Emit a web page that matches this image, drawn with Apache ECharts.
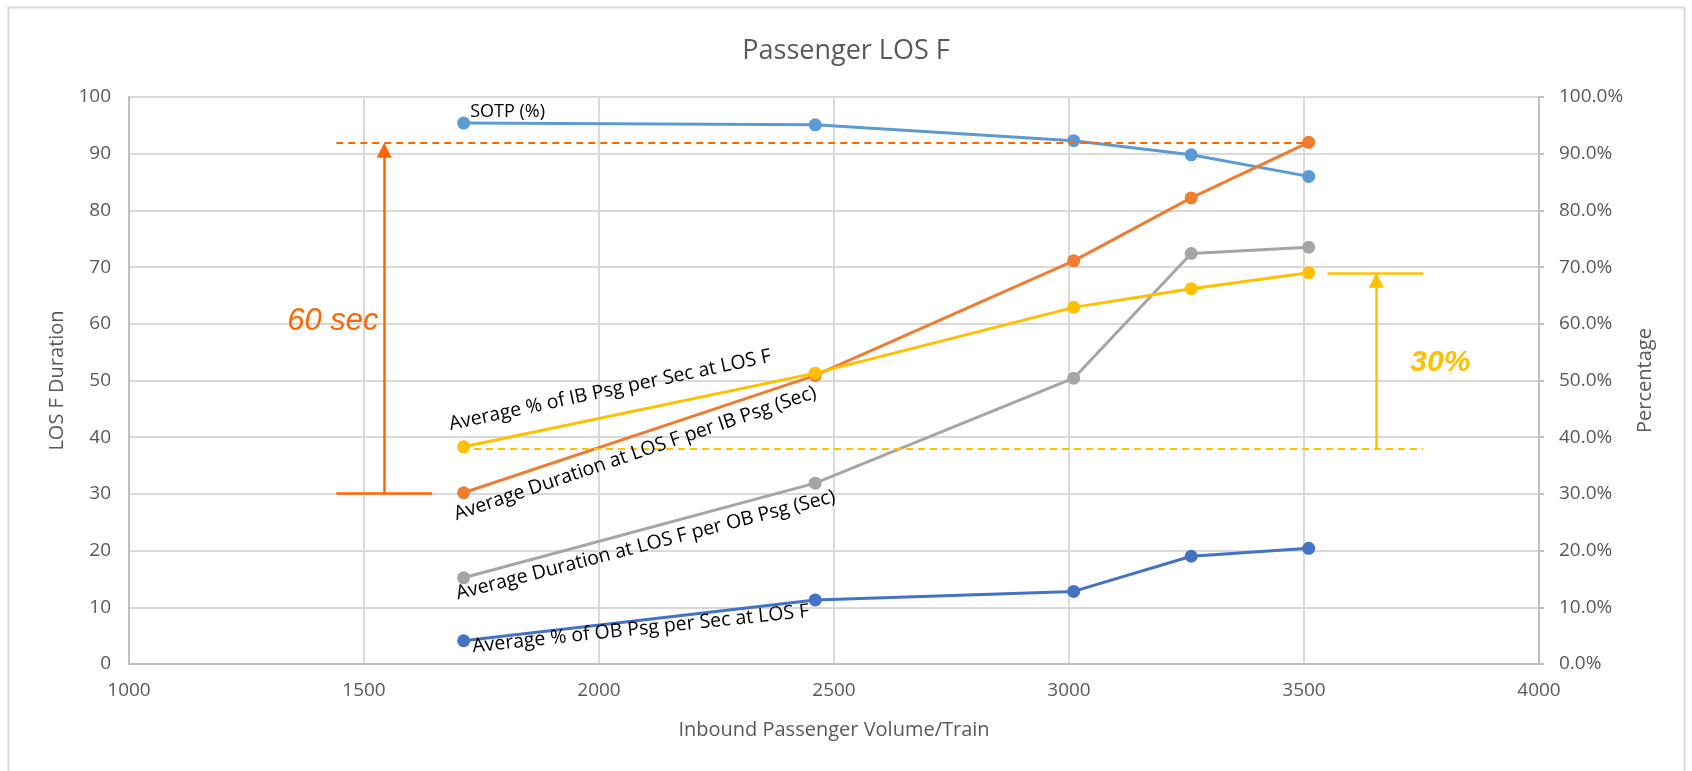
<!DOCTYPE html>
<html style="height: 100%">
<head>
    <meta charset="utf-8">
    <title>Passenger LOS F</title>
    <script src="https://cdn.jsdelivr.net/npm/echarts@6/dist/echarts.min.js"></script>
</head>
<body style="height: 100%; margin: 0; background: #fff">
    <div id="main" style="width: 1692px; height: 771px"></div>
    <script type="text/javascript">
        // data
        var volume = [1712, 2460, 3010, 3260, 3510];
        var sotp = [95.4, 95.1, 92.3, 89.8, 86.0];          // %
        var durIB = [30.2, 50.9, 71.1, 82.2, 92.0];         // sec
        var durOB = [15.2, 31.9, 50.4, 72.4, 73.5];         // sec
        var pctIB = [38.3, 51.3, 62.9, 66.2, 69.0];         // %
        var pctOB = [4.1, 11.3, 12.8, 19.0, 20.4];          // %

        var seriesNames = [
            'SOTP (%)',
            'Average Duration at LOS F per IB Psg (Sec)',
            'Average Duration at LOS F per OB Psg (Sec)',
            'Average % of IB Psg per Sec at LOS F',
            'Average % of OB Psg per Sec at LOS F'
        ];
        var colors = ['#5B9BD5', '#ED7D31', '#A5A5A5', '#FFC000', '#4472C4'];

        var FONT = "'Open Sans', sans-serif";
        var GREY = '#595959';
        var ORANGE = '#FF6600';
        var YELLOW = '#FFC000';

        function pairs(ys) {
            return volume.map(function (x, i) { return [x, ys[i]]; });
        }

        function lineSeries(idx, ys, axis, extra) {
            var s = {
                name: seriesNames[idx],
                type: 'line',
                yAxisIndex: axis,
                data: pairs(ys),
                symbol: 'circle',
                symbolSize: 13,
                itemStyle: { color: colors[idx] },
                lineStyle: { color: colors[idx], width: 3 },
                emphasis: { disabled: true },
                z: 3
            };
            for (var k in extra) s[k] = extra[k];
            return s;
        }

        var markBase = {
            silent: true,
            animation: false,
            symbol: ['none', 'none'],
            label: { show: false },
            emphasis: { disabled: true }
        };

        // arrow / bracket annotations (data coordinates)
        var orangeMarks = Object.assign({}, markBase, {
            lineStyle: { color: ORANGE, width: 2.5, type: 'solid' },
            data: [
                [{ coord: [1441, 91.9], lineStyle: { type: [7, 5], width: 2 } }, { coord: [3510, 91.9] }],
                [{ coord: [1441, 30.2] }, { coord: [1645, 30.2] }],
                [{ coord: [1543, 30.2], symbol: 'none' },
                 { coord: [1543, 90.6], symbol: 'triangle', symbolSize: [15, 15] }]
            ]
        });
        var yellowMarks = Object.assign({}, markBase, {
            lineStyle: { color: YELLOW, width: 2.5, type: 'solid' },
            data: [
                [{ coord: [1734, 37.9], lineStyle: { type: [7, 5], width: 2 } }, { coord: [3754, 37.9] }],
                [{ coord: [3550, 69.0] }, { coord: [3754, 69.0] }],
                [{ coord: [3654, 37.9], symbol: 'none' },
                 { coord: [3654, 67.7], symbol: 'triangle', symbolSize: [15, 15] }]
            ]
        });

        var myChart = echarts.init(document.getElementById('main'));

        var option = {
            animation: false,
            backgroundColor: '#fff',
            textStyle: { fontFamily: FONT },
            title: {
                text: 'Passenger LOS F',
                left: 'center',
                top: 33,
                textStyle: { fontFamily: FONT, fontSize: 27, fontWeight: 'normal', color: GREY }
            },
            grid: { left: 129, right: 153, top: 97, bottom: 107 },
            xAxis: {
                type: 'value',
                min: 1000,
                max: 4000,
                interval: 500,
                name: 'Inbound Passenger Volume/Train',
                nameLocation: 'middle',
                nameGap: 56,
                nameTextStyle: { fontFamily: FONT, fontSize: 20, color: GREY },
                axisLine: { lineStyle: { color: '#BFBFBF', width: 2 } },
                axisTick: { show: false },
                axisLabel: {
                    color: GREY, fontSize: 19, margin: 17, fontFamily: FONT,
                    formatter: function (v) { return String(v); }
                },
                splitLine: { lineStyle: { color: '#D9D9D9', width: 2 } }
            },
            yAxis: [
                {
                    type: 'value',
                    min: 0,
                    max: 100,
                    interval: 10,
                    name: 'LOS F Duration',
                    nameLocation: 'middle',
                    nameGap: 62,
                    nameTextStyle: { fontFamily: FONT, fontSize: 20, color: GREY },
                    axisLine: { show: true, lineStyle: { color: '#BFBFBF', width: 2 } },
                    axisTick: { show: false },
                    axisLabel: { color: GREY, fontSize: 19, margin: 18, fontFamily: FONT },
                    splitLine: { lineStyle: { color: '#D9D9D9', width: 2 } }
                },
                {
                    type: 'value',
                    min: 0,
                    max: 100,
                    interval: 10,
                    position: 'right',
                    name: 'Percentage',
                    nameLocation: 'middle',
                    nameGap: 96,
                    nameRotate: 90,
                    nameTextStyle: { fontFamily: FONT, fontSize: 20, color: GREY },
                    axisLine: { show: true, lineStyle: { color: '#BFBFBF', width: 2 } },
                    axisTick: { show: true, length: 5, lineStyle: { color: '#BFBFBF', width: 2 } },
                    axisLabel: {
                        color: GREY, fontSize: 19, margin: 20, fontFamily: FONT,
                        formatter: function (v) { return v.toFixed(1) + '%'; }
                    },
                    splitLine: { show: false }
                }
            ],
            series: [
                lineSeries(0, sotp, 1),
                lineSeries(1, durIB, 0, { markLine: orangeMarks }),
                lineSeries(2, durOB, 0),
                lineSeries(3, pctIB, 1, { markLine: yellowMarks }),
                lineSeries(4, pctOB, 1)
            ]
        };

        myChart.setOption(option);

        // text annotations placed through the axes
        var notes = [
            { text: seriesNames[0], at: [1726, 95.8], rot: 0, size: 18 },
            { text: seriesNames[3], at: [1686, 40.5], rot: 12, size: 19.5 },
            { text: seriesNames[1], at: [1700, 24.6], rot: 18.8, size: 19.5 },
            { text: seriesNames[2], at: [1702, 10.6], rot: 14.5, size: 19.5 },
            { text: seriesNames[4], at: [1733, 1.3], rot: 6, size: 19.5 }
        ];

        function px(p) {
            return myChart.convertToPixel({ xAxisIndex: 0, yAxisIndex: 0 }, p);
        }

        var graphics = [
            {
                type: 'rect',
                shape: { x: 8.5, y: 7.5, width: 1676, height: 775 },
                style: { fill: 'none', stroke: '#D9D9D9', lineWidth: 2 },
                silent: true, z: -1
            }
        ];

        notes.forEach(function (n) {
            var p = px(n.at);
            graphics.push({
                type: 'text',
                x: p[0], y: p[1],
                rotation: n.rot * Math.PI / 180,
                silent: true, z: 10,
                style: {
                    text: n.text,
                    fill: '#000',
                    fontSize: n.size,
                    fontFamily: FONT,
                    align: 'left', textAlign: 'left',
                    verticalAlign: 'bottom', textVerticalAlign: 'bottom'
                }
            });
        });

        var p60 = px([1531, 60.4]);
        graphics.push({
            type: 'text', x: p60[0], y: p60[1], silent: true, z: 10,
            style: {
                text: '60 sec', fill: ORANGE, fontSize: 31, fontStyle: 'italic',
                fontFamily: "'Liberation Sans', Arial, sans-serif",
                align: 'right', textAlign: 'right', verticalAlign: 'middle', textVerticalAlign: 'middle'
            }
        });
        var p30 = px([3790, 53.1]);
        graphics.push({
            type: 'text', x: p30[0], y: p30[1], silent: true, z: 10,
            style: {
                text: '30%', fill: YELLOW, fontSize: 30, fontStyle: 'italic', fontWeight: 'bold',
                fontFamily: "'Liberation Sans', Arial, sans-serif",
                align: 'center', textAlign: 'center', verticalAlign: 'middle', textVerticalAlign: 'middle'
            }
        });

        myChart.setOption({ graphic: graphics });
    </script>
</body>
</html>
